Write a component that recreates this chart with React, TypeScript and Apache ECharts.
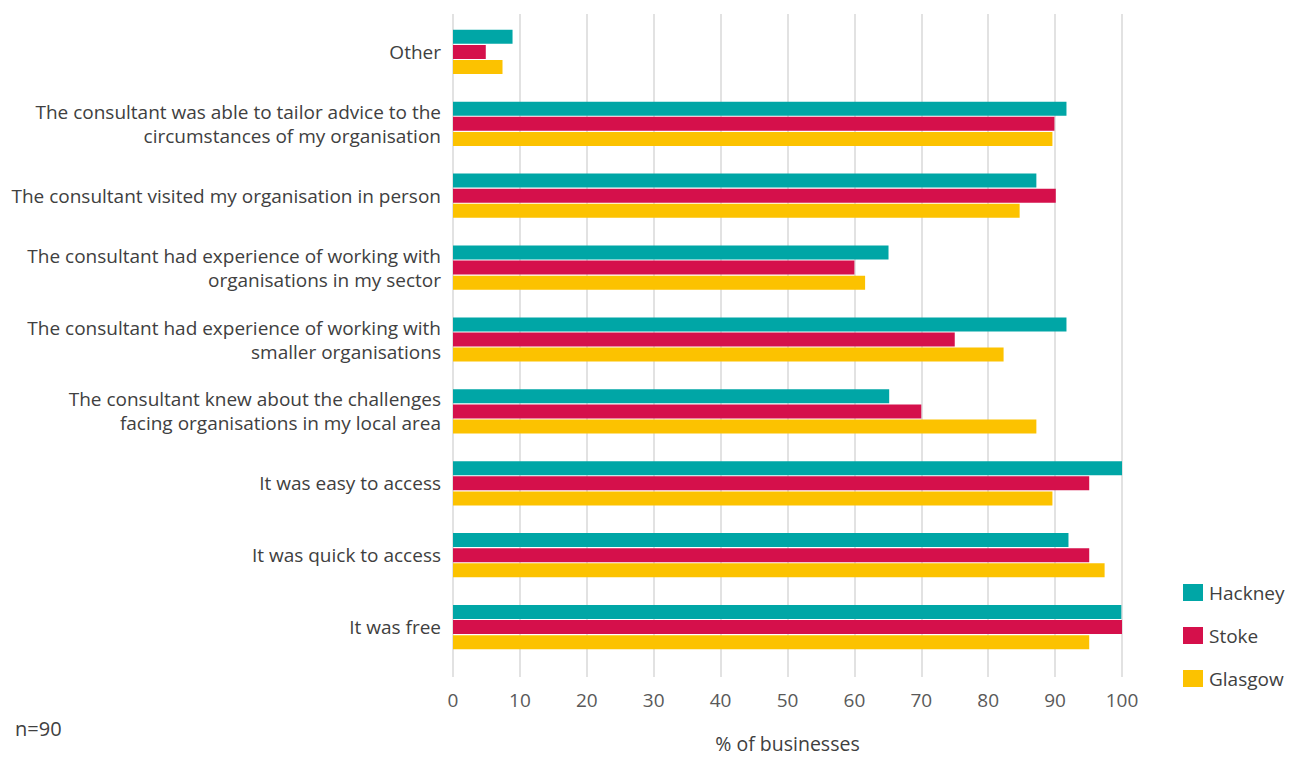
import React, { useEffect, useRef } from "react";
import * as echarts from "echarts";

const categories = [
  "Other",
  "The consultant was able to tailor advice to the\ncircumstances of my organisation",
  "The consultant visited my organisation in person",
  "The consultant had experience of working with\norganisations in my sector",
  "The consultant had experience of working with\nsmaller organisations",
  "The consultant knew about the challenges\nfacing organisations in my local area",
  "It was easy to access",
  "It was quick to access",
  "It was free",
];

const hackney = [8.9, 91.7, 87.2, 65.1, 91.7, 65.2, 100, 92.0, 99.9];
const stoke = [4.9, 89.9, 90.1, 60.0, 75.0, 70.0, 95.1, 95.1, 100];
const glasgow = [7.4, 89.6, 84.7, 61.6, 82.3, 87.2, 89.6, 97.4, 95.1];

const xTicks = { min: 0, max: 100, interval: 10 };

const FONT = "'Open Sans', sans-serif";

export default function App() {
  const ref = useRef<HTMLDivElement>(null);
  useEffect(() => {
    if (!ref.current) return;
    const chart = echarts.init(ref.current, undefined, { renderer: "svg" });
    const barStyle = { barWidth: 14, barGap: "8%" };
    chart.setOption({
      animation: false,
      textStyle: { fontFamily: FONT },
      color: ["#00A6A6", "#D5104B", "#FCC200"],
      grid: [
        { left: 453, width: 669, top: 16, height: 647 },
        { left: 453, width: 669, top: 14, height: 676 },
      ],
      legend: {
        orient: "vertical",
        left: 1178,
        top: 578,
        itemWidth: 20,
        itemHeight: 17,
        itemGap: 24,
        icon: "rect",
        textStyle: { fontSize: 19, color: "#404040", fontFamily: FONT, padding: [0, 0, 0, 1] },
        data: ["Hackney", "Stoke", "Glasgow"],
      },
      xAxis: [
        { type: "value", gridIndex: 0, min: xTicks.min, max: xTicks.max, show: false },
        {
          type: "value",
          gridIndex: 1,
          min: xTicks.min,
          max: xTicks.max,
          interval: xTicks.interval,
          axisLine: { show: false },
          axisTick: { show: false },
          splitLine: { show: true, lineStyle: { color: "#d9d9d9", width: 1.5 } },
          axisLabel: { fontSize: 19, color: "#595959", margin: 13, fontFamily: FONT },
          name: "% of businesses",
          nameLocation: "middle",
          nameGap: 56,
          nameTextStyle: { fontSize: 19.5, color: "#404040", fontFamily: FONT },
        },
      ],
      yAxis: [
        {
          type: "category",
          gridIndex: 0,
          inverse: true,
          data: categories,
          axisLine: { show: false },
          axisTick: { show: false },
          axisLabel: {
            fontSize: 19,
            color: "#404040",
            margin: 12,
            lineHeight: 24,
            verticalAlign: "middle",
            fontFamily: FONT,
          },
        },
        { type: "value", gridIndex: 1, show: false },
      ],
      graphic: [
        {
          type: "text",
          left: 15,
          top: 718,
          style: { text: "n=90", fontSize: 20, fill: "#404040", fontFamily: FONT },
        },
      ],
      series: [
        { name: "Hackney", type: "bar", data: hackney, ...barStyle },
        { name: "Stoke", type: "bar", data: stoke, ...barStyle },
        { name: "Glasgow", type: "bar", data: glasgow, ...barStyle },
      ],
    });
    return () => chart.dispose();
  }, []);
  return (
    <div
      ref={ref}
      style={{ position: "fixed", left: 0, top: 0, width: 1295, height: 758, background: "#fff" }}
    />
  );
}
